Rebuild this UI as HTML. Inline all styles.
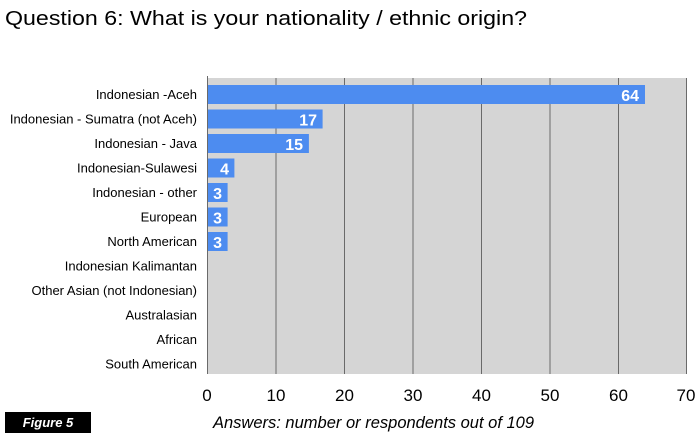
<!DOCTYPE html>
<html><head><style>
body{margin:0;width:700px;height:438px;background:#fff;overflow:hidden;font-family:"Liberation Sans",sans-serif;}
</style></head><body>
<svg width="700" height="438" xmlns="http://www.w3.org/2000/svg" font-family="Liberation Sans, sans-serif">
<text x="5" y="25" font-size="20" fill="#000" textLength="522" lengthAdjust="spacingAndGlyphs">Question 6: What is your nationality / ethnic origin?</text>
<rect x="207" y="78" width="480" height="296" fill="#d5d5d5"/>
<g stroke="#6a6a6a" stroke-width="1">
<line x1="207.5" y1="76" x2="207.5" y2="374"/>
<line x1="276" y1="78" x2="276" y2="374"/>
<line x1="344.5" y1="78" x2="344.5" y2="374"/>
<line x1="413" y1="78" x2="413" y2="374"/>
<line x1="481.5" y1="78" x2="481.5" y2="374"/>
<line x1="550" y1="78" x2="550" y2="374"/>
<line x1="618.5" y1="78" x2="618.5" y2="374"/>
<line x1="686.5" y1="78" x2="686.5" y2="374"/>
</g>
<g fill="#4d8cf0">
<rect x="208" y="85" width="437" height="19"/>
<rect x="208" y="109.5" width="114.6" height="19"/>
<rect x="208" y="134" width="100.9" height="19"/>
<rect x="208" y="158.5" width="26.4" height="19"/>
<rect x="208" y="183" width="19.6" height="19"/>
<rect x="208" y="207.5" width="19.6" height="19"/>
<rect x="208" y="232" width="19.6" height="19"/>
</g>
<g fill="#fff" font-weight="bold" font-size="16" text-anchor="end">
<text x="639" y="101">64</text>
<text x="317" y="125.5">17</text>
<text x="303" y="150">15</text>
<text x="229" y="174.5">4</text>
<text x="222" y="199">3</text>
<text x="222" y="223.5">3</text>
<text x="222" y="248">3</text>
</g>
<g font-size="13" text-anchor="end" fill="#000">
<text x="197" y="99">Indonesian -Aceh</text>
<text x="197" y="123.5">Indonesian - Sumatra (not Aceh)</text>
<text x="197" y="148">Indonesian - Java</text>
<text x="197" y="172.5">Indonesian-Sulawesi</text>
<text x="197" y="197">Indonesian - other</text>
<text x="197" y="221.5">European</text>
<text x="197" y="246">North American</text>
<text x="197" y="270.5">Indonesian Kalimantan</text>
<text x="197" y="295">Other Asian (not Indonesian)</text>
<text x="197" y="319.5">Australasian</text>
<text x="197" y="344">African</text>
<text x="197" y="368.5">South American</text>
</g>
<g font-size="17" text-anchor="middle" fill="#000">
<text x="207" y="401">0</text>
<text x="276" y="401">10</text>
<text x="344.5" y="401">20</text>
<text x="413" y="401">30</text>
<text x="481.5" y="401">40</text>
<text x="550" y="401">50</text>
<text x="618.5" y="401">60</text>
<text x="686" y="401">70</text>
</g>
<text x="213" y="428" font-size="16.5" font-style="italic" fill="#000">Answers: number or respondents out of 109</text>
<rect x="5" y="412" width="86" height="21" fill="#000"/>
<text x="48" y="427" font-size="13" font-style="italic" font-weight="bold" fill="#fff" text-anchor="middle">Figure 5</text>
</svg>
</body></html>
